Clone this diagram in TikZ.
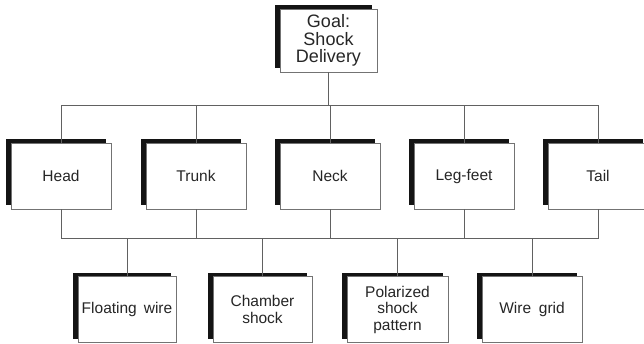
\documentclass[tikz,border=0pt]{standalone}
\usepackage{fontspec}
\setmainfont{Liberation Sans}
\usetikzlibrary{shadows}
\begin{document}
\begin{tikzpicture}[x=1pt,y=-1pt,
  box/.style={draw=black!55, line width=0.8pt, fill=white, minimum width=100pt,
    minimum height=66pt, inner sep=1pt, align=center, text=black!85,
    font=\fontsize{15.5}{16.5}\selectfont,
    general shadow={shadow xshift=-5pt, shadow yshift=4pt, fill=black!92}},
  goalbox/.style={box, minimum width=97pt, minimum height=63pt,
    font=\fontsize{18}{17.5}\selectfont},
  conn/.style={draw=black!62, line width=0.9pt}]
\useasboundingbox (0,0) rectangle (644,343);
% buses
\coordinate (busA) at (0,105);
\coordinate (busB) at (0,238);
% nodes
\node[goalbox] (goal) at (328.5,40.5) {Goal:\\Shock\\Delivery};
\node[box] (head) at (61,176) {Head};
\node[box] (trunk) at (196,176) {Trunk};
\node[box] (neck) at (330,176) {Neck};
\node[box] (leg) at (464,176) {Leg-feet};
\node[box] (tail) at (598,176) {Tail};
\node[box, minimum width=98pt] (fw) at (127,309.5) {Floating\hspace{0.45em}wire};
\node[box, minimum width=99pt] (cs) at (262.5,309.5) {Chamber\\shock};
\node[box, minimum width=101pt] (ps) at (397.5,309.5) {Polarized\\shock\\pattern};
\node[box, minimum width=100pt] (wg) at (532,309.5) {Wire\hspace{0.5em}grid};
% connectors, top level
\draw[conn] (goal.south) -- (goal.south |- busA);
\draw[conn] (head.north) -- (head.north |- busA) -- (tail.north |- busA) -- (tail.north);
\draw[conn] (trunk.north) -- (trunk.north |- busA);
\draw[conn] (neck.north) -- (neck.north |- busA);
\draw[conn] (leg.north) -- (leg.north |- busA);
% connectors, lower level
\draw[conn] (head.south) -- (head.south |- busB) -- (tail.south |- busB) -- (tail.south);
\draw[conn] (trunk.south) -- (trunk.south |- busB);
\draw[conn] (neck.south) -- (neck.south |- busB);
\draw[conn] (leg.south) -- (leg.south |- busB);
\draw[conn] (fw.north) -- (fw.north |- busB);
\draw[conn] (cs.north) -- (cs.north |- busB);
\draw[conn] (ps.north) -- (ps.north |- busB);
\draw[conn] (wg.north) -- (wg.north |- busB);
\end{tikzpicture}
\end{document}
